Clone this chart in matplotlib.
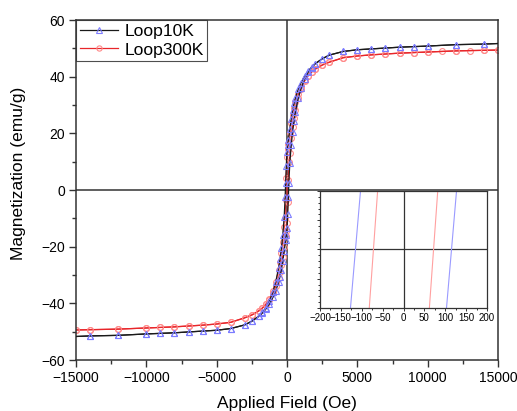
import matplotlib
matplotlib.use("Agg")
import matplotlib.pyplot as plt
from matplotlib.ticker import MultipleLocator

plt.rcParams['font.family'] = ['Liberation Sans', 'DejaVu Sans']

# ---------------- data ----------------
series_names = ["Loop10K", "Loop300K"]

# Loop10K, descending branch (+15000 -> -15000)
H10_down = [15000, 14000, 12000, 10000, 9000, 8000, 7000, 6000, 5000, 4000, 3000, 2500,
            2000, 1750, 1500, 1250, 1000, 800, 600, 500, 400, 300, 200, 100, 50, 0,
            -50, -100, -130, -200, -300, -400, -500, -600, -800, -1000, -1250, -1500,
            -1750, -2000, -2500, -3000, -4000, -5000, -6000, -7000, -8000, -9000,
            -10000, -12000, -14000, -15000]
M10_down = [51.7, 51.5, 51.3, 50.8, 50.6, 50.4, 50.1, 49.8, 49.5, 48.9, 47.6, 46.3,
            44.6, 43.4, 42.0, 40.2, 37.9, 35.6, 32.6, 30.6, 28.1, 25.1, 21.6, 17.8, 15.8, 13.5,
            8.5, 2.5, -2.5, -9.5, -15.8, -20.6, -24.4, -27.6, -32.4, -35.9, -39.2, -41.5,
            -43.2, -44.5, -46.3, -47.6, -48.9, -49.5, -49.8, -50.1, -50.4, -50.6,
            -50.8, -51.3, -51.5, -51.7]

# Loop10K, ascending branch (-15000 -> +15000)
H10_up = [-15000, -14000, -12000, -10000, -9000, -8000, -7000, -6000, -5000, -4000, -3000, -2500,
          -2000, -1750, -1500, -1250, -1000, -800, -600, -500, -400, -300, -200, -100, -50, 0,
          50, 100, 130, 200, 300, 400, 500, 600, 800, 1000, 1250, 1500,
          1750, 2000, 2500, 3000, 4000, 5000, 6000, 7000, 8000, 9000,
          10000, 12000, 14000, 15000]
M10_up = [-51.7, -51.5, -51.3, -50.8, -50.6, -50.4, -50.1, -49.8, -49.5, -48.9, -47.6, -46.3,
          -44.6, -43.4, -42.0, -40.2, -37.9, -35.6, -32.6, -30.6, -28.1, -25.1, -21.6, -17.8, -15.8, -13.5,
          -8.5, -2.5, 2.5, 9.5, 15.8, 20.6, 24.4, 27.6, 32.4, 35.9, 39.2, 41.5,
          43.2, 44.5, 46.3, 47.6, 48.9, 49.5, 49.8, 50.1, 50.4, 50.6,
          50.8, 51.3, 51.5, 51.7]

# Loop300K, descending branch
H300_down = [15000, 14000, 13000, 12000, 11000, 10000, 9000, 8000, 7000, 6000, 5000, 4000,
             3000, 2500, 2000, 1750, 1500, 1250, 1000, 800, 600, 500, 400, 300, 200, 100, 50, 0,
             -50, -90, -150, -200, -300, -400, -500, -600, -800, -1000, -1250, -1500,
             -1750, -2000, -2500, -3000, -4000, -5000, -6000, -7000, -8000, -9000,
             -10000, -12000, -14000, -15000]
M300_down = [49.4, 49.3, 49.2, 49.1, 48.9, 48.7, 48.5, 48.3, 48.0, 47.7, 47.3, 46.7,
             45.1, 44.1, 42.7, 41.7, 40.4, 38.7, 36.4, 34.0, 31.0, 29.0, 26.5, 23.5, 20.0, 16.3, 14.3, 11.8,
             4.4, -3.6, -9.8, -13.2, -18.4, -22.3, -25.5, -28.3, -32.6, -35.8, -38.5, -40.3,
             -41.6, -42.6, -44.1, -45.1, -46.7, -47.3, -47.7, -48.0, -48.3, -48.5,
             -48.7, -49.1, -49.3, -49.4]

# Loop300K, ascending branch
H300_up = [-15000, -14000, -12000, -10000, -9000, -8000, -7000, -6000, -5000, -4000,
           -3000, -2500, -2000, -1750, -1500, -1250, -1000, -800, -600, -500, -400, -300, -200, -100, -50, 0,
           50, 90, 150, 200, 300, 400, 500, 600, 800, 1000, 1250, 1500,
           1750, 2000, 2500, 3000, 4000, 5000, 6000, 7000, 8000, 9000,
           10000, 12000, 14000, 15000]
M300_up = [-49.4, -49.3, -49.1, -48.7, -48.5, -48.3, -48.0, -47.7, -47.3, -46.7,
           -45.1, -44.1, -42.7, -41.7, -40.4, -38.7, -36.4, -34.0, -31.0, -29.0, -26.5, -23.5, -20.0, -16.3, -14.3, -11.8,
           -4.4, 3.6, 9.8, 13.2, 18.4, 22.3, 25.5, 28.3, 32.6, 35.8, 38.5, 40.3,
           41.6, 42.6, 44.1, 45.1, 46.7, 47.3, 47.7, 48.0, 48.3, 48.5,
           48.7, 49.1, 49.3, 49.4]

x_ticks = [-15000, -10000, -5000, 0, 5000, 10000, 15000]
y_ticks = [-60, -40, -20, 0, 20, 40, 60]
inset_x_ticks = [-200, -150, -100, -50, 0, 50, 100, 150, 200]

# ---------------- styles ----------------
c10_line, c10_mk = "#1a1a1a", "#7c7cff"
c300_line, c300_mk = "#e8262a", "#ff8a8a"
c10_inset, c300_inset = "#9a9aff", "#ffa0a0"
axis_gray = "#333333"

fig = plt.figure(figsize=(5.17, 4.11), dpi=100)
ax = fig.add_axes([76/517, 1 - 360/411, 422/517, 340/411])

ax.axhline(0, color=axis_gray, lw=1.1, zorder=1)
ax.axvline(0, color=axis_gray, lw=1.1, zorder=1)

mk10 = dict(color=c10_line, lw=0.9, marker="^", markersize=4.6, markerfacecolor="none",
            markeredgecolor=c10_mk, markeredgewidth=0.8, markevery=slice(1, -1), zorder=3)
mk300 = dict(color=c300_line, lw=0.9, marker="o", markersize=4.2, markerfacecolor="none",
             markeredgecolor=c300_mk, markeredgewidth=0.8, zorder=2)

l10, = ax.plot(H10_down, M10_down, label=series_names[0], **mk10)
ax.plot(H10_up, M10_up, **mk10)
l300, = ax.plot(H300_down, M300_down, label=series_names[1], **mk300)
ax.plot(H300_up, M300_up, **mk300)

ax.set_xlim(-15000, 15000)
ax.set_ylim(-60, 60)
ax.set_xticks(x_ticks)
ax.set_yticks(y_ticks)
ax.xaxis.set_minor_locator(MultipleLocator(2500))
ax.yaxis.set_minor_locator(MultipleLocator(10))
ax.tick_params(which="both", direction="out", top=False, right=False, labelsize=10, width=1.0, color=axis_gray)
ax.tick_params(which="major", length=5, pad=3)
ax.tick_params(which="minor", length=3)
for s in ax.spines.values():
    s.set_linewidth(1.1)
    s.set_color(axis_gray)

ax.set_xlabel("Applied Field (Oe)", fontsize=12.5, va="top")
ax.set_ylabel("Magnetization (emu/g)", fontsize=12.5)
ax.xaxis.set_label_coords(0.5, -0.106)
ax.yaxis.set_label_coords(-0.118, 0.549)

leg = ax.legend(handles=[l10, l300], loc="upper left", bbox_to_anchor=(0, 1),
                fontsize=12.6, frameon=True, fancybox=False, borderaxespad=0,
                handlelength=2.2, handletextpad=0.35, borderpad=0.2, labelspacing=0.2,
                markerscale=0.9)
leg.get_frame().set_edgecolor("#222222")
leg.get_frame().set_linewidth(0.8)

# ---------------- inset ----------------
axi = fig.add_axes([320/517, 1 - 308/411, 167/517, 117/411])
axi.axhline(0, color=axis_gray, lw=0.9, zorder=1)
axi.axvline(0, color=axis_gray, lw=0.9, zorder=1)
axi.plot(H10_down, M10_down, color=c10_inset, lw=0.8, zorder=2)
axi.plot(H10_up, M10_up, color=c10_inset, lw=0.8, zorder=2)
axi.plot(H300_down, M300_down, color=c300_inset, lw=0.8, zorder=2)
axi.plot(H300_up, M300_up, color=c300_inset, lw=0.8, zorder=2)
axi.set_xlim(-200, 200)
axi.set_ylim(-2, 2)
axi.set_xticks(inset_x_ticks)
axi.xaxis.set_minor_locator(MultipleLocator(25))
axi.yaxis.set_major_locator(MultipleLocator(1))
axi.yaxis.set_minor_locator(MultipleLocator(0.2))
axi.tick_params(which="both", direction="out", top=False, right=False, labelsize=7,
                width=0.7, color=axis_gray, pad=1)
axi.tick_params(which="major", length=2.5)
axi.tick_params(which="minor", length=1.5)
axi.tick_params(axis="y", labelleft=False)
for s in axi.spines.values():
    s.set_linewidth(0.9)
    s.set_color(axis_gray)

fig.savefig("out.png", dpi=100)
